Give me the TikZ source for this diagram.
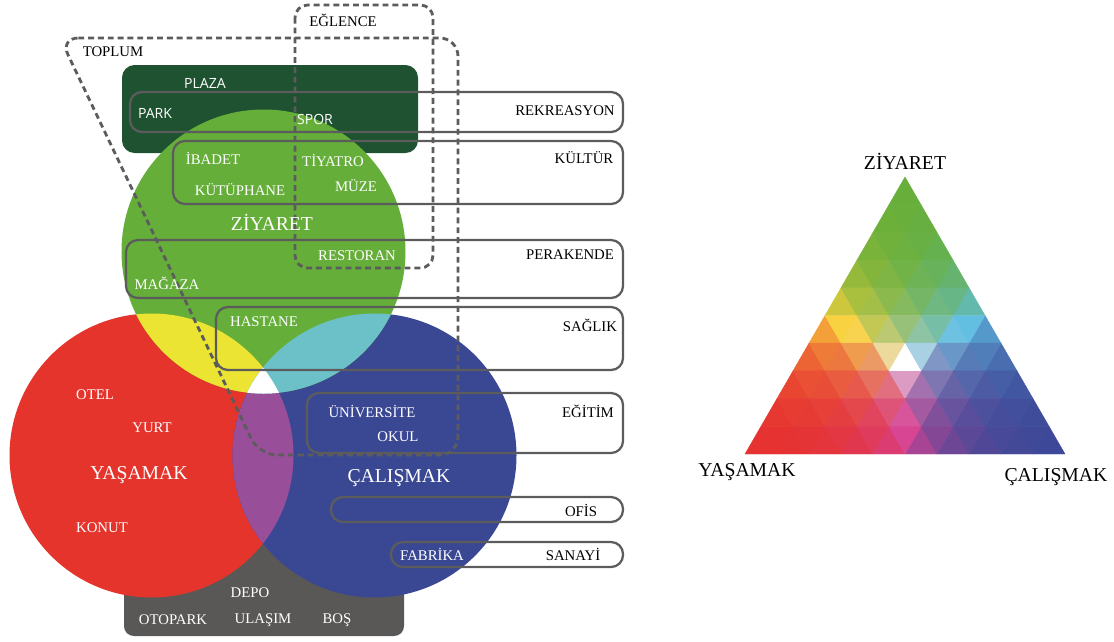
\documentclass[tikz,border=0pt]{standalone}
\usepackage{fontspec}
\setmainfont{Liberation Serif}
\newfontfamily\sansfont{Open Sans}

\definecolor{ziyaret}{RGB}{101,174,57}
\definecolor{yasam}{RGB}{228,52,44}
\definecolor{calis}{RGB}{58,72,148}
\definecolor{sari}{RGB}{236,228,50}
\definecolor{turkuaz}{RGB}{108,193,200}
\definecolor{mor}{RGB}{152,78,152}
\definecolor{koyuyesil}{RGB}{30,82,48}
\definecolor{koyugri}{RGB}{90,88,86}
\definecolor{cizgi}{RGB}{92,92,92}

% colour of one small triangle from its three weights (top, left, right)
\newcommand{\setcell}[3]{%
  \pgfmathsetmacro{\wmx}{max(#1,#2,#3)}%
  \pgfmathsetmacro{\ugr}{(#1/\wmx)^1.8}%
  \pgfmathsetmacro{\ure}{(#2/\wmx)^1.8}%
  \pgfmathsetmacro{\ubl}{(#3/\wmx)^1.8}%
  \pgfmathsetmacro{\kr}{\ure*(1-\ugr)*(1-\ubl)}%
  \pgfmathsetmacro{\kg}{(1-\ure)*\ugr*(1-\ubl)}%
  \pgfmathsetmacro{\kb}{(1-\ure)*(1-\ugr)*\ubl}%
  \pgfmathsetmacro{\ky}{\ure*\ugr*(1-\ubl)}%
  \pgfmathsetmacro{\kc}{(1-\ure)*\ugr*\ubl}%
  \pgfmathsetmacro{\kmg}{\ure*(1-\ugr)*\ubl}%
  \pgfmathsetmacro{\kw}{\ure*\ugr*\ubl}%
  \pgfmathtruncatemacro{\valr}{min(255,230*\kr+103*\kg+62*\kb+250*\ky+95*\kc+215*\kmg+225*\kw)}%
  \pgfmathtruncatemacro{\valg}{min(255,50*\kr+175*\kg+72*\kb+210*\ky+190*\kc+65*\kmg+225*\kw)}%
  \pgfmathtruncatemacro{\valb}{min(255,48*\kr+58*\kg+152*\kb+60*\ky+225*\kc+145*\kmg+232*\kw)}%
  \definecolor{cellc}{RGB}{\valr,\valg,\valb}}

\begin{document}
\begin{tikzpicture}[x=0.025cm,y=-0.025cm,
    kutu/.style={draw=cizgi,line width=1.6pt,rounded corners=8.5pt},
    kesik/.style={draw=cizgi,line width=2pt,dash pattern=on 4.2pt off 2.8pt,rounded corners=9pt},
    etiket/.style={font=\fontsize{10.5}{12}\selectfont,inner sep=0pt},
    beyaz/.style={etiket,text=white},
    sans/.style={font=\sansfont\fontsize{10}{12}\selectfont,text=white,inner sep=0pt},
    buyuk/.style={font=\fontsize{14}{16}\selectfont,inner sep=0pt}]
    \useasboundingbox (0,0) rectangle (1114,641);

    % back panels
    \fill[koyuyesil,rounded corners=9pt] (122,65) rectangle (418,153);
    \fill[koyugri,rounded corners=7pt] (124,520) rectangle (404,636);

    % three circles and their overlaps
    \coordinate (zc) at (263.5,251.5);
    \coordinate (yc) at (151.5,455.5);
    \coordinate (cc) at (374.5,455.5);
    \fill[yasam] (yc) circle[radius=142];
    \fill[calis] (cc) circle[radius=142];
    \fill[ziyaret] (zc) circle[radius=142];
    \begin{scope}
        \clip (yc) circle[radius=142];
        \fill[sari] (zc) circle[radius=142];
        \fill[mor] (cc) circle[radius=142];
        \clip (cc) circle[radius=142];
        \fill[white] (zc) circle[radius=142];
    \end{scope}
    \begin{scope}
        \clip (cc) circle[radius=142];
        \fill[turkuaz] (zc) circle[radius=142];
        \clip (yc) circle[radius=142];
        \fill[white] (zc) circle[radius=142];
    \end{scope}

    % category frames
    \draw[kutu] (130,92) rectangle (623,132);
    \draw[kutu] (173,141) rectangle (623,204);
    \draw[kutu] (126,240) rectangle (623,298);
    \draw[kutu] (216,307) rectangle (623,370);
    \draw[kutu] (307,393) rectangle (623,453);
    \draw[kutu] (331,497) rectangle (623,522);
    \draw[kutu] (391,542) rectangle (623,567);

    % dashed groups
    \draw[kesik] (295,5) rectangle (433,268);
    \draw[kesik,rounded corners=13pt] (60,38) -- (458,38) -- (458,455) -- (259,455) -- cycle;

    % labels
    \node[etiket] (toplum) at (113,52) {TOPLUM};
    \node[etiket] (eglence) at (343,20) {EĞLENCE};
    \node[sans] (plaza) at (205,83) {PLAZA};
    \node[sans] (park) at (155,113) {PARK};
    \node[sans] (spor) at (315,119) {SPOR};
    \node[beyaz] (ibadet) at (213,158) {İBADET};
    \node[beyaz] (tiyatro) at (333,160) {TİYATRO};
    \node[beyaz] (kutuphane) at (240,190) {KÜTÜPHANE};
    \node[beyaz] (muze) at (356,186) {MÜZE};
    \node[buyuk,text=white] (ziyaret) at (272,222) {ZİYARET};
    \node[beyaz] (restoran) at (357,256) {RESTORAN};
    \node[beyaz] (magaza) at (167,283) {MAĞAZA};
    \node[beyaz] (hastane) at (264,322) {HASTANE};
    \node[beyaz] (otel) at (95,395) {OTEL};
    \node[beyaz] (yurt) at (152,428) {YURT};
    \node[buyuk,text=white] (yasamak) at (139,475) {YAŞAMAK};
    \node[beyaz] (konut) at (102,528) {KONUT};
    \node[beyaz] (universite) at (372,412) {ÜNİVERSİTE};
    \node[beyaz] (okul) at (398,437) {OKUL};
    \node[buyuk,text=white] (calismak) at (399,478) {ÇALIŞMAK};
    \node[beyaz] (fabrika) at (432,554) {FABRİKA};
    \node[beyaz] (depo) at (250,593) {DEPO};
    \node[beyaz] (otopark) at (173,620) {OTOPARK};
    \node[beyaz] (ulasim) at (263,620) {ULAŞIM};
    \node[beyaz] (bos) at (337,620) {BOŞ};

    \node[etiket] (rekreasyon) at (565,111) {REKREASYON};
    \node[etiket] (kultur) at (584,158) {KÜLTÜR};
    \node[etiket] (perakende) at (570,255) {PERAKENDE};
    \node[etiket] (saglik) at (590,325) {SAĞLIK};
    \node[etiket] (egitim) at (588,411) {EĞİTİM};
    \node[etiket] (ofis) at (581,510) {OFİS};
    \node[etiket] (sanayi) at (573,554) {SANAYİ};

    % colour triangle, 10 rows
    \foreach \r in {0,...,9}{
        \foreach \k in {0,...,\r}{
            \pgfmathtruncatemacro{\wgr}{28-3*\r}
            \pgfmathtruncatemacro{\wre}{3*\r-3*\k+1}
            \pgfmathtruncatemacro{\wbl}{3*\k+1}
            \setcell{\wgr}{\wre}{\wbl}
            \fill[cellc,draw=cellc,line width=.3pt,line join=round]
                ({905-16*\r+32*\k},{177+27.7*\r}) -- ++(-16,27.7) -- ++(32,0) -- cycle;
        }
    }
    \foreach \r in {1,...,9}{
        \pgfmathtruncatemacro{\kmax}{\r-1}
        \foreach \k in {0,...,\kmax}{
            \pgfmathtruncatemacro{\wgr}{29-3*\r}
            \pgfmathtruncatemacro{\wre}{3*\r-3*\k-1}
            \pgfmathtruncatemacro{\wbl}{3*\k+2}
            \setcell{\wgr}{\wre}{\wbl}
            \fill[cellc,draw=cellc,line width=.3pt,line join=round]
                ({905-16*\r+32*\k},{177+27.7*\r}) -- ++(32,0) -- ++(-16,27.7) -- cycle;
        }
    }
    % empty centre
    \fill[white] (905,343.2) -- ++(-16,27.7) -- ++(32,0) -- cycle;
    \node[buyuk] (tziyaret) at (905,161) {ZİYARET};
    \node[buyuk] (tyasamak) at (747,472) {YAŞAMAK};
    \node[buyuk] (tcalismak) at (1056,477) {ÇALIŞMAK};
\end{tikzpicture}
\end{document}
